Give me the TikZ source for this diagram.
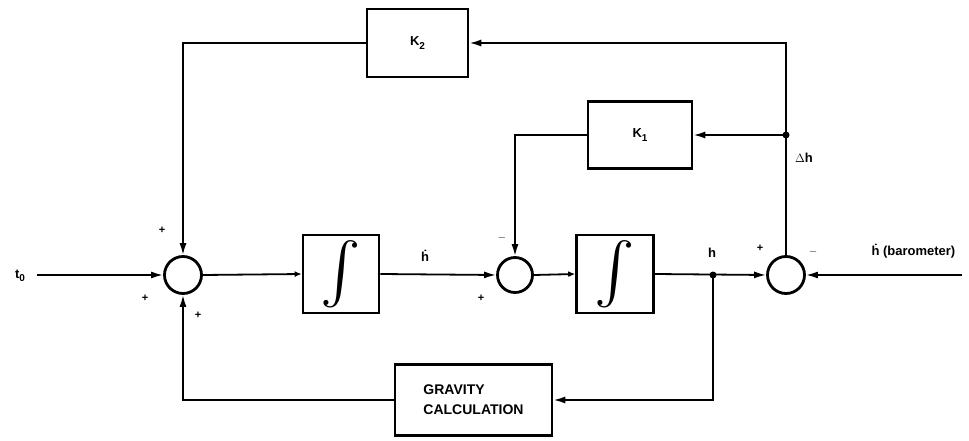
\documentclass[tikz,border=0pt]{standalone}
\usepackage{fontspec}
\setmainfont{Liberation Sans}
\usetikzlibrary{arrows.meta}
\begin{document}
\begin{tikzpicture}[x=1pt,y=-1pt,
  every node/.style={font=\bfseries\fontsize{13}{15}\selectfont},
  blockbox/.style={draw,line width=2.6pt,rectangle,inner sep=0pt},
  sumnode/.style={draw,line width=2.8pt,circle,minimum size=37pt,inner sep=0pt},
  conn/.style={line width=1.8pt},
  arr/.style={conn,-{Latex[length=12pt,width=7pt]}},
  sarr/.style={conn,-{Latex[length=7pt,width=6pt]}},
  sign/.style={font=\bfseries\fontsize{11}{11}\selectfont,inner sep=0pt},
  jdot/.style={circle,fill,inner sep=0pt,minimum size=7pt},
  intg/.style={blockbox,minimum width=76pt,minimum height=78pt}]
\useasboundingbox (0,0) rectangle (969,441);
% blocks
\node[sumnode] (sum1) at (183,275) {};
\node[intg] (int1) at (341,274) {\resizebox{!}{52pt}{$\int$}};
\node[sumnode,minimum size=35pt] (sum2) at (515,275) {};
\node[intg,minimum width=77pt] (int2) at (615,274) {\resizebox{!}{52pt}{$\int$}};
\node[sumnode] (sum3) at (786,275) {};
\node[blockbox,minimum width=101pt,minimum height=68pt] (K2) at (417.5,43) {K\raisebox{-0.45ex}{\fontsize{10}{10}\selectfont 2}};
\node[blockbox,minimum width=104pt,minimum height=67pt] (K1) at (640,135) {K\raisebox{-0.45ex}{\fontsize{10}{10}\selectfont 1}};
\node[blockbox,minimum width=157pt,minimum height=71pt,align=left,font=\bfseries\fontsize{14}{20}\selectfont] (grav) at (473.5,400) {GRAVITY\\CALCULATION};
% coordinates
\coordinate (in) at (37,275);
\coordinate (baro) at (962,275);
\coordinate (hj) at (713,275);
\coordinate (dj) at (786,135);
% connectors
\draw[arr] (in) -- (sum1.west);
\draw[sarr] (sum1.east) -- (int1.west);
\draw[arr] (int1.east) -- (sum2.west);
\draw[sarr] (sum2.east) -- (int2.west);
\draw[arr] (int2.east) -- (sum3.west);
\draw[arr] (baro) -- (sum3.east);
\draw[conn] (sum3.north) -- (dj);
\draw[arr] (dj) |- (K2.east);
\draw[arr] (dj) -- (K1.east);
\draw[arr] (K2.west) -| (sum1.north);
\draw[arr] (K1.west) -| (sum2.north);
\draw[arr] (hj) |- (grav.east);
\draw[arr] (grav.west) -| (sum1.south);
\node[jdot] (hdot) at (hj) {};
\node[jdot] (ddot) at (dj) {};
% labels
\node (lt0) at (20,276) {t\raisebox{-0.5ex}{\fontsize{10}{10}\selectfont 0}};
\node (lhd) at (425,256) {\.{h}};
\node (lh) at (712,253) {h};
\node (ldh) at (804,158) {$\Delta$h};
\node[anchor=west] (lbaro) at (868,251) {\.{h} (barometer)};
% signs
\node[sign] (s1a) at (162,230) {+};
\node[sign] (s1b) at (145,298) {+};
\node[sign] (s1c) at (198,315) {+};
\node[sign] (s2a) at (502,238) {$-$};
\node[sign] (s2b) at (481,298) {+};
\node[sign] (s3a) at (760,248) {+};
\node[sign] (s3b) at (813,252) {$-$};
\end{tikzpicture}
\end{document}
